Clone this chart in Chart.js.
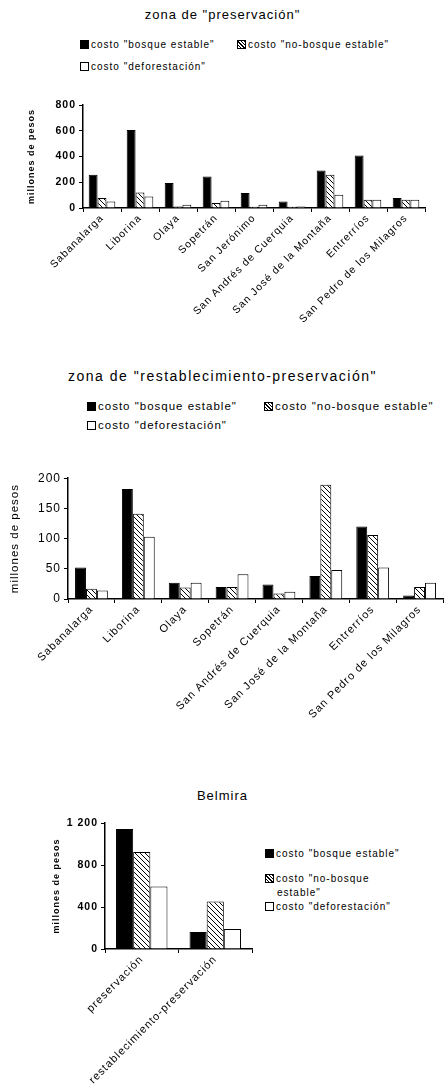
<!DOCTYPE html>
<html lang="es">
<head>
<meta charset="UTF-8">
<title>Costos por zona</title>
<script src="https://cdn.jsdelivr.net/npm/chart.js"></script>
<style>
  body { margin: 0; width: 445px; height: 1084px; position: relative; background: #fff; font-family: 'Liberation Sans', Arial, sans-serif; color: #000; overflow: hidden; }
  .titulo { position: absolute; left: 0; width: 445px; text-align: center; font-size: 13px; letter-spacing: 1px; }
  .leyenda { position: absolute; font-size: 10px; letter-spacing: 1px; white-space: nowrap; }
  .leyenda div { position: absolute; white-space: nowrap; }
  .sw { display: inline-block; width: 7px; height: 7px; border: 1px solid #000; margin-right: 2px; vertical-align: -1px; }
  .negro { background: #000; }
  .blanco { background: #fff; }
  .rayado { background: repeating-linear-gradient(45deg, #fff 0 1.5px, #000 1.5px 2.5px); }
  canvas { position: absolute; left: 0; }
</style>
</head>
<body>

<div class="titulo" style="top:7px">zona de "preservación"</div>
<div class="leyenda" style="left:80px; top:39px">
  <div style="left:0; top:0"><span class="sw negro"></span>costo "bosque estable"</div>
  <div style="left:157px; top:0"><span class="sw rayado"></span>costo "no-bosque estable"</div>
  <div style="left:0; top:22px"><span class="sw blanco"></span>costo "deforestación"</div>
</div>
<canvas id="g1"></canvas>

<div class="titulo" style="top:368px; font-size:14px; letter-spacing:1.5px">zona de "restablecimiento-preservación"</div>
<div class="leyenda" style="left:87px; top:400px; font-size:11.5px">
  <div style="left:0; top:0"><span class="sw negro"></span>costo "bosque estable"</div>
  <div style="left:177px; top:0"><span class="sw rayado"></span>costo "no-bosque estable"</div>
  <div style="left:0; top:19px"><span class="sw blanco"></span>costo "deforestación"</div>
</div>
<canvas id="g2"></canvas>

<div class="titulo" style="top:788px">Belmira</div>
<div class="leyenda" style="left:265px; top:848px">
  <div style="left:0; top:0"><span class="sw negro"></span>costo "bosque estable"</div>
  <div style="left:0; top:25px"><span class="sw rayado"></span>costo "no-bosque</div>
  <div style="left:12px; top:39px">estable"</div>
  <div style="left:0; top:53px"><span class="sw blanco"></span>costo "deforestación"</div>
</div>
<canvas id="g3"></canvas>

<script>
// datos
const municipios1 = ['Sabanalarga', 'Liborina', 'Olaya', 'Sopetrán', 'San Jerónimo', 'San Andrés de Cuerquia', 'San José de la Montaña', 'Entrerríos', 'San Pedro de los Milagros'];
const bosque1 = [258, 606, 194, 245, 116, 51, 291, 408, 77];
const noBosque1 = [77, 121, 12, 39, 10, 10, 258, 64, 64];
const defor1 = [51, 90, 26, 57, 26, 12, 103, 64, 64];

const municipios2 = ['Sabanalarga', 'Liborina', 'Olaya', 'Sopetrán', 'San Andrés de Cuerquia', 'San José de la Montaña', 'Entrerríos', 'San Pedro de los Milagros'];
const bosque2 = [52, 182, 27, 20, 24, 38, 120, 6];
const noBosque2 = [17, 141, 19, 20, 9, 189, 106, 20];
const defor2 = [14, 103, 27, 41, 12, 48, 52, 27];

const zonas3 = ['preservación', 'restablecimiento-preservación'];
const bosque3 = [1143, 162];
const noBosque3 = [924, 453];
const defor3 = [596, 190];

const yMax = [800, 200, 1200];
const yPaso = [200, 50, 400];

Chart.defaults.font.family = "'Liberation Sans', Arial, sans-serif";
Chart.defaults.color = '#000';

// el texto del original sale muy espaciado
Chart.register({
    id: 'espaciado',
    beforeUpdate(c) { c.ctx.letterSpacing = '1px'; },
    beforeDraw(c) { c.ctx.letterSpacing = '1px'; }
});

function rayado() {
    const c = document.createElement('canvas');
    c.width = 5; c.height = 5;
    const x = c.getContext('2d');
    x.fillStyle = '#fff';
    x.fillRect(0, 0, 5, 5);
    x.strokeStyle = '#000';
    x.lineWidth = 1;
    x.beginPath();
    x.moveTo(0, 0); x.lineTo(5, 5);
    x.moveTo(-1, 4); x.lineTo(1, 6);
    x.moveTo(4, -1); x.lineTo(6, 1);
    x.stroke();
    return x.createPattern(c, 'repeat');
}

function series(b, n, d) {
    const comun = { borderColor: '#000', borderWidth: 1, categoryPercentage: 0.7, barPercentage: 1 };
    return [
        Object.assign({ label: 'costo "bosque estable"', data: b, backgroundColor: '#000' }, comun),
        Object.assign({ label: 'costo "no-bosque estable"', data: n, backgroundColor: rayado() }, comun),
        Object.assign({ label: 'costo "deforestación"', data: d, backgroundColor: '#fff' }, comun)
    ];
}

function opciones(i, f) {
    return {
        responsive: false,
        animation: false,
        layout: { padding: { top: 10, right: f.derecha, left: 0, bottom: 0 } },
        plugins: { legend: { display: false }, tooltip: { enabled: false } },
        scales: {
            x: {
                grid: { drawOnChartArea: false, color: '#000', tickLength: 4, lineWidth: 1 },
                border: { color: '#000', width: 1.5 },
                ticks: { autoSkip: false, minRotation: 45, maxRotation: 45, font: { size: f.xFuente }, padding: 0 },
                afterFit: s => { s.height = f.altoX; }
            },
            y: {
                min: 0, max: yMax[i],
                grid: { drawOnChartArea: false, color: '#000', tickLength: 4, lineWidth: 1 },
                border: { color: '#000', width: 1.5 },
                ticks: {
                    stepSize: yPaso[i], padding: 3,
                    font: { size: f.yFuente, weight: f.negrita ? 'bold' : 'normal' },
                    callback: v => String(v).replace(/\B(?=(\d{3})+(?!\d))/g, ' ')
                },
                title: {
                    display: true, text: 'millones de pesos',
                    font: { size: f.tFuente, weight: f.negrita ? 'bold' : 'normal' },
                    padding: { top: f.padTitulo, bottom: 0 }
                },
                afterFit: s => { s.width = f.anchoY; }
            }
        }
    };
}

function dibujar(id, top, alto, labels, datos, opts) {
    const cv = document.getElementById(id);
    cv.width = 445; cv.height = alto;
    cv.style.top = top + 'px';
    return new Chart(cv, { type: 'bar', data: { labels: labels, datasets: datos }, options: opts });
}

dibujar('g1', 95, 235, municipios1, series(bosque1, noBosque1, defor1),
    opciones(0, { anchoY: 83, altoX: 122, derecha: 20, padTitulo: 26, negrita: true, xFuente: 10.5, yFuente: 10.5, tFuente: 9 }));
dibujar('g2', 468, 270, municipios2, series(bosque2, noBosque2, defor2),
    opciones(1, { anchoY: 68, altoX: 139, derecha: 2, padTitulo: 8, negrita: false, xFuente: 11, yFuente: 12, tFuente: 11.5 }));
dibujar('g3', 813, 271, zonas3, series(bosque3, noBosque3, defor3),
    opciones(2, { anchoY: 105, altoX: 135, derecha: 193, padTitulo: 51, negrita: true, xFuente: 11, yFuente: 10.5, tFuente: 9 }));
</script>
</body>
</html>
